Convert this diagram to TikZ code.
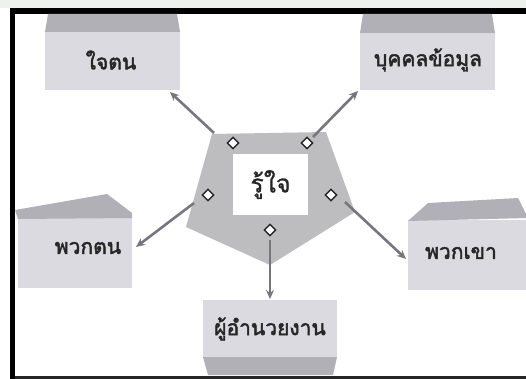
\documentclass[tikz,border=0pt]{standalone}
\usepackage{fontspec}
\newfontfamily\thaifont[Script=Thai,FakeBold=2.2]{Loma}
\newfontfamily\thaireg[Script=Thai,FakeBold=0.8]{Loma}
\usetikzlibrary{arrows.meta,shapes.geometric}
\definecolor{boxfront}{HTML}{DADAE0}
\definecolor{boxtop}{HTML}{B0B0B6}
\definecolor{penta}{HTML}{BDBDC0}
\definecolor{arrowc}{HTML}{76767E}
\definecolor{topband}{HTML}{EEF1EE}
\begin{document}
\begin{tikzpicture}[x=1pt,y=-1pt,
  front/.style={fill=boxfront, draw=none, inner sep=0pt, anchor=north west},
  face/.style={fill=boxtop, draw=none},
  lbl/.style={font=\thaifont\fontsize{21}{24}\selectfont, text=black!85, inner sep=1pt},
  conn/.style={draw=arrowc, line width=2.6pt, -{Stealth[length=9pt,width=8pt]}},
  port/.style={diamond, draw=black!85, fill=white, line width=1.4pt, minimum size=12pt, inner sep=0pt}]

\useasboundingbox (0,0) rectangle (526,379);
\fill[white] (0,0) rectangle (526,379);
\fill[topband] (0,0) rectangle (526,8);
% frame
\fill[black] (10,8) rectangle (526,14);
\fill[black] (10,8) rectangle (15,379);
\fill[black!85] (15,376) rectangle (526,379);

% top-left box
\fill[face] (48,14) -- (177,14) -- (180,32) -- (45,32) -- cycle;
\node[front, minimum width=135pt, minimum height=58pt] (jaiton) at (45,32) {};
\node[lbl] (jaitonT) at (111,60) {ใจตน};

% top-right box
\fill[face] (363,14) -- (492,14) -- (495,33) -- (360,33) -- cycle;
\node[front, minimum width=135pt, minimum height=57pt] (bukkon) at (360,33) {};
\node[lbl] (bukkonT) at (428,60) {บุคคลข้อมูล};

% left box
\node[front, minimum width=114pt, minimum height=70pt] (puakton) at (18,218) {};
\fill[face] (15,210) -- (107,194) -- (132,213) -- (132,218) -- (18,219) -- cycle;
\node[lbl] (puaktonT) at (88,248) {พวกตน};

% right box
\node[front, minimum width=118pt, minimum height=70pt] (puakkhao) at (408,220) {};
\fill[face] (408,221) -- (428,203) -- (518,198) -- (528,218) -- cycle;
\node[lbl] (puakkhaoT) at (461,253) {พวกเขา};

% bottom box
\node[front, minimum width=134pt, minimum height=57pt] (phuamnuay) at (203,300) {};
\fill[face] (203,357) -- (337,357) -- (333,375) -- (208,375) -- cycle;
\node[lbl] (phuamnuayT) at (270,329) {ผู้อำนวยงาน};

% central pentagon
\fill[penta] (212,134) -- (326,132) -- (355,212) -- (270,265) -- (186,227) -- cycle;
\node[fill=white, minimum width=75pt, minimum height=61pt, inner sep=0pt,
      font=\thaireg\fontsize{25}{28}\selectfont, text=black!85] (ruijai) at (270.5,184.5) {รู้ใจ};

% ports
\node[port] (p1) at (233,143) {};
\node[port] (p2) at (307,143) {};
\node[port] (p3) at (208,195) {};
\node[port] (p4) at (331,195) {};
\node[port] (p5) at (270,230) {};

% connector ends
\coordinate (s1) at (214,133);
\coordinate (s2) at (313,137);
\coordinate (s3) at (194,203);
\coordinate (s4) at (345,202);
\coordinate (s5) at (270,240);
\coordinate (t1) at (170,92);
\coordinate (t2) at (358,91);
\coordinate (t3) at (136,247);
\coordinate (t4) at (406,259);
\coordinate (t5) at (270,299);

\draw[conn] (s1) -- (t1);
\draw[conn] (s2) -- (t2);
\draw[conn] (s3) -- (t3);
\draw[conn] (s4) -- (t4);
\draw[conn] (s5) -- (t5);
\end{tikzpicture}
\end{document}
